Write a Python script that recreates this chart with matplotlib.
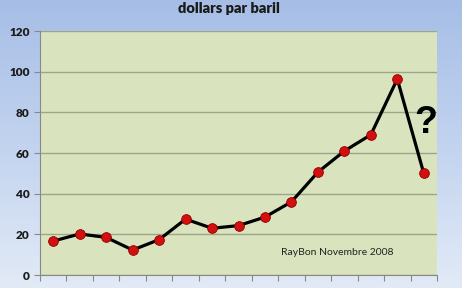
import numpy as np
import matplotlib.pyplot as plt
from matplotlib.colors import LinearSegmentedColormap

plt.rcParams['font.family'] = ['Lato', 'DejaVu Sans']

prix = [16.7, 20.2, 18.5, 12.3, 17.4, 27.5, 23.0, 24.3, 28.5, 36.0, 50.6, 61.0, 69.0, 96.4, 50.0]
y_ticks = [0, 20, 40, 60, 80, 100, 120]

fig = plt.figure(figsize=(4.62, 2.88), dpi=100)

# fond degrade bleu
bg = fig.add_axes([0, 0, 1, 1], zorder=-10)
grad = np.linspace(0, 1, 256).reshape(-1, 1)
cmap = LinearSegmentedColormap.from_list('bleu', ['#a6bee6', '#c2d3ef', '#e2eaf6'])
bg.imshow(grad, aspect='auto', cmap=cmap, extent=[0, 1, 0, 1])
bg.set_axis_off()

ax = fig.add_axes([0.0866, 0.0451, 0.8593, 0.847])
ax.set_facecolor('#d9e4bf')
x = np.arange(len(prix))
ax.plot(x, prix, color='black', lw=2.3, zorder=3)
ax.plot(x, prix, 'o', ms=7, mfc='#d40f0f', mec='#8a0000', mew=0.6, zorder=4)

ax.set_xlim(-0.5, len(prix) - 0.5)
ax.set_ylim(0, 120)
ax.set_yticks(y_ticks)
ax.set_yticklabels([str(v) for v in y_ticks], fontsize=8.5, fontweight='heavy', color='#1a1a1a')
ax.set_xticks(np.arange(-0.5, len(prix), 1))
ax.set_xticklabels([])
ax.tick_params(axis='both', direction='out', length=4, color='#888888', width=0.8)
ax.grid(axis='y', color='#9aa58a', lw=1)
ax.set_axisbelow(True)
for s in ['top', 'right']:
    ax.spines[s].set_visible(False)
ax.spines['left'].set_color('#888888')
ax.spines['bottom'].set_color('#888888')

fig.text(0.495, 0.972, 'dollars par baril', ha='center', va='center', fontsize=10.5, fontweight='heavy', color='#1a1a1a')
ax.text(14.08, 75, '?', fontsize=27, fontweight='bold', ha='center', va='center', family='Liberation Sans')
ax.text(10.72, 11, 'RayBon Novembre 2008', fontsize=7.5, ha='center', va='center', color='#222222')

fig.savefig('out.png', dpi=100)
